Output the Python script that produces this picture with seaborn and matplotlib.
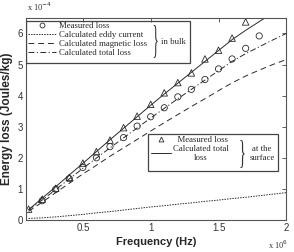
import matplotlib
matplotlib.use('Agg')
import matplotlib.pyplot as plt
import seaborn as sns
from matplotlib.patches import Rectangle, PathPatch
from matplotlib.textpath import TextPath
from matplotlib.font_manager import FontProperties
from matplotlib.path import Path
from matplotlib.lines import Line2D

# frequency in units of 1e6 Hz, losses in units of 1e-4 J/kg
freq = [0.1, 0.2, 0.3, 0.4, 0.5, 0.6, 0.7, 0.8, 0.9, 1.0,
        1.1, 1.2, 1.3, 1.4, 1.5, 1.6, 1.7, 1.8, 1.9, 2.0]
eddy = [0.05, 0.07, 0.10, 0.14, 0.18, 0.23, 0.27, 0.32, 0.37, 0.42,
        0.46, 0.51, 0.55, 0.60, 0.64, 0.69, 0.73, 0.78, 0.83, 0.88]
magnetic = [0.28, 0.57, 0.88, 1.18, 1.48, 1.76, 2.05, 2.32, 2.59, 2.86,
            3.13, 3.39, 3.65, 3.90, 4.16, 4.41, 4.63, 4.82, 5.00, 5.16]
total_bulk = [0.33, 0.64, 0.98, 1.32, 1.66, 1.99, 2.32, 2.64, 2.96, 3.28,
              3.59, 3.90, 4.20, 4.50, 4.80, 5.10, 5.35, 5.57, 5.79, 6.00]
total_surface = [0.33, 0.70, 1.07, 1.45, 1.82, 2.20, 2.58, 2.95, 3.32, 3.69,
                 4.05, 4.40, 4.75, 5.10, 5.45, 5.80, 6.10, 6.38, 6.66, 6.93]

meas_bulk_freq = [0.2, 0.3, 0.4, 0.5, 0.6, 0.7, 0.8, 0.9, 1.0,
                  1.1, 1.2, 1.3, 1.4, 1.5, 1.6, 1.7, 1.8]
meas_bulk = [0.62, 0.99, 1.33, 1.69, 2.00, 2.36, 2.65, 3.02, 3.32,
             3.61, 3.96, 4.20, 4.52, 4.86, 5.18, 5.52, 5.92]
meas_surf_freq = [0.1, 0.2, 0.3, 0.4, 0.5, 0.6, 0.7, 0.8, 0.9,
                  1.0, 1.1, 1.2, 1.3, 1.4, 1.5, 1.6, 1.7]
meas_surf = [0.35, 0.67, 1.02, 1.37, 1.83, 2.20, 2.57, 2.97, 3.34,
             3.72, 4.09, 4.42, 4.73, 5.18, 5.46, 5.85, 6.37]

x_ticks = [0.5, 1, 1.5, 2]
x_ticklabels = ['0.5', '1', '1.5', '2']
y_ticks = [0, 1, 2, 3, 4, 5, 6]

sns.set_theme(style='white')
plt.rcParams['font.family'] = ['Liberation Sans', 'DejaVu Sans']
serif = 'Liberation Serif'
ink = '#2a2a2a'
leg_font = {'family': serif, 'size': 6.3}


def brace(ax, x0, x1, y0, y1):
    # a "}" glyph stretched into the given box (axes coords)
    tp = TextPath((0, 0), '}', size=10, prop=FontProperties(family=serif))
    v = tp.vertices.copy()
    lo, hi = v.min(0), v.max(0)
    v[:, 0] = x0 + (v[:, 0] - lo[0]) / (hi[0] - lo[0]) * (x1 - x0)
    v[:, 1] = y0 + (v[:, 1] - lo[1]) / (hi[1] - lo[1]) * (y1 - y0)
    ax.add_patch(PathPatch(Path(v, tp.codes), transform=ax.transAxes,
                           fc='#333', ec='none', zorder=5))


fig = plt.figure(figsize=(2.94, 2.52), dpi=100)
ax = fig.add_axes([0.088, 0.127, 0.886, 0.802])

sns.scatterplot(x=meas_bulk_freq, y=meas_bulk, ax=ax, marker='o', s=20,
                facecolor='none', edgecolor=ink, linewidth=0.6)
sns.lineplot(x=freq, y=eddy, ax=ax, color=ink, lw=0.7, ls=(0, (1.5, 1.2)), errorbar=None)
sns.lineplot(x=freq, y=magnetic, ax=ax, color=ink, lw=0.7, ls=(0, (6, 4)), errorbar=None)
sns.lineplot(x=freq, y=total_bulk, ax=ax, color=ink, lw=0.7,
             ls=(0, (6, 2.5, 1.2, 2.5)), errorbar=None)
sns.scatterplot(x=meas_surf_freq, y=meas_surf, ax=ax, marker='^', s=22,
                facecolor='none', edgecolor=ink, linewidth=0.6)
sns.lineplot(x=freq, y=total_surface, ax=ax, color=ink, lw=0.7, errorbar=None)

ax.set_xlim(0.08, 2.0)
ax.set_ylim(0, 6.5)
ax.set_xticks(x_ticks)
ax.set_xticklabels(x_ticklabels)
ax.set_yticks(y_ticks)
ax.tick_params(direction='in', top=True, right=True, length=3, width=0.6,
               labelsize=7, labelcolor='#333', color='#444', pad=2)
for sp in ax.spines.values():
    sp.set_color('#555')
    sp.set_linewidth(0.8)

ax.set_xlabel('Frequency (Hz)', fontsize=8, fontweight='bold', labelpad=3)
ax.set_ylabel('Energy loss (Joules/kg)', fontsize=8.5, fontweight='bold', labelpad=3)

fig.text(0.092, 0.955, r'x 10$^{-4}$', fontsize=6, family=serif, color='#333')
fig.text(0.91, 0.01, r'x 10$^{6}$', fontsize=6, family=serif, color='#333')

# legend keys
circ = Line2D([], [], ls='none', marker='o', ms=3.5, mfc='none', mec=ink, mew=0.6)
tri = Line2D([], [], ls='none', marker='^', ms=3.5, mfc='none', mec=ink, mew=0.6)
l_eddy, l_mag, l_tot, l_surf = ax.lines[:4]

# legend for the bulk
ax.add_patch(Rectangle((0.0, 0.777), 0.63, 0.208, transform=ax.transAxes,
                       fill=False, ec='#444', lw=0.9, zorder=4))
leg1 = ax.legend([circ, l_eddy, l_mag, l_tot],
                 ['Measured loss', 'Calculated eddy current',
                  'Calculated magnetic loss', 'Calculated total loss'],
                 loc='upper left', bbox_to_anchor=(0.0, 0.99), frameon=False,
                 prop=leg_font, handlelength=3.3, handletextpad=0.3,
                 labelspacing=0.12, borderpad=0.2, borderaxespad=0)
ax.add_artist(leg1)
brace(ax, 0.486, 0.506, 0.802, 0.965)
ax.text(0.52, 0.883, 'in bulk', transform=ax.transAxes, fontsize=6.3,
        family=serif, va='center', ha='left', color=ink)

# legend for the surface
ax.add_patch(Rectangle((0.467, 0.243), 0.5, 0.183, transform=ax.transAxes,
                       fill=False, ec='#444', lw=0.9, zorder=4))
leg2 = ax.legend([tri, l_surf], ['  Measured loss', 'Calculated total\nloss'],
                 loc='upper left', bbox_to_anchor=(0.475, 0.425), frameon=False,
                 prop=leg_font, handlelength=2.2, handletextpad=0.3,
                 labelspacing=0.1, borderpad=0.2, borderaxespad=0)
for t in leg2.get_texts():
    t.set_multialignment('center')
brace(ax, 0.818, 0.84, 0.257, 0.396)
ax.text(0.906, 0.33, 'at the\nsurface', transform=ax.transAxes, fontsize=6.3,
        family=serif, va='center', ha='center', color=ink, linespacing=1.1)

fig.savefig('out.png', dpi=100)
